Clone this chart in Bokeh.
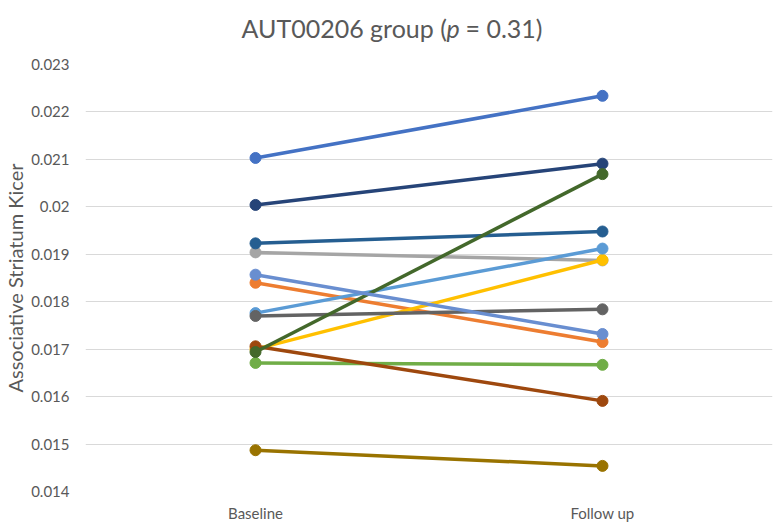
from bokeh.plotting import figure
from bokeh.layouts import column
from bokeh.models import Range1d, FixedTicker, Label
from bokeh.embed import file_html
from bokeh.resources import INLINE

categories = ["Baseline", "Follow up"]
baseline = [0.02103, 0.01840, 0.01904, 0.01700, 0.01776, 0.01671, 0.02004,
            0.01706, 0.01770, 0.01487, 0.01923, 0.01694, 0.01857]
follow_up = [0.02234, 0.01715, 0.01887, 0.01888, 0.01912, 0.01667, 0.02091,
             0.01591, 0.01784, 0.01454, 0.01948, 0.02069, 0.01732]
colors = ["#4472C4", "#ED7D31", "#A5A5A5", "#FFC000", "#5B9BD5", "#70AD47",
          "#264478", "#9E480E", "#636363", "#997300", "#255E91", "#43682B",
          "#698ED0"]
y_ticks = [0.014, 0.015, 0.016, 0.017, 0.018, 0.019, 0.020, 0.021, 0.022, 0.023]
y_tick_labels = ["0.014", "0.015", "0.016", "0.017", "0.018", "0.019", "0.02",
                 "0.021", "0.022", "0.023"]
title_parts = ["AUT00206 group (", "p", "= 0.31)"]

FONT = "Lato"
TXT = "#595959"
FW = 687          # frame width shared by both figures (frames are aligned)
FRAME_LEFT = 86   # page x of the aligned frames
TITLE_H = 56

# ---- title strip (separate small figure so the p can be italic) ----
tf = figure(frame_width=FW, frame_height=TITLE_H, output_backend="svg",
            toolbar_location=None, x_axis_type=None, y_axis_type=None,
            x_range=Range1d(FRAME_LEFT, FRAME_LEFT + FW),
            y_range=Range1d(0, TITLE_H), min_border=0)
tf.outline_line_color = None
tf.xgrid.visible = False
tf.ygrid.visible = False
tb = TITLE_H - 27
tf.add_layout(Label(x=242, y=tb, text=title_parts[0], text_align="left",
                    text_baseline="alphabetic", text_font=FONT,
                    text_font_size="25px", text_color=TXT))
tf.add_layout(Label(x=447, y=tb, text=title_parts[1], text_align="left",
                    text_baseline="alphabetic", text_font=FONT,
                    text_font_style="italic",
                    text_font_size="25px", text_color=TXT))
tf.add_layout(Label(x=466, y=tb, text=title_parts[2], text_align="left",
                    text_baseline="alphabetic", text_font=FONT,
                    text_font_size="25px", text_color=TXT))

# ---- main chart ----
p = figure(frame_width=FW, frame_height=427, output_backend="svg",
           toolbar_location=None,
           x_range=Range1d(-0.49, 1.49), y_range=Range1d(y_ticks[0], y_ticks[-1]),
           min_border_left=60, min_border_top=8, min_border_right=4,
           min_border_bottom=4)
p.outline_line_color = None
p.background_fill_color = "white"

p.xaxis.ticker = FixedTicker(ticks=[0, 1])
p.xaxis.major_label_overrides = {i: c for i, c in enumerate(categories)}
p.yaxis.ticker = FixedTicker(ticks=y_ticks)
p.yaxis.major_label_overrides = {t: l for t, l in zip(y_ticks, y_tick_labels)}
for ax in (p.xaxis, p.yaxis):
    ax.axis_line_color = None
    ax.major_tick_line_color = None
    ax.minor_tick_line_color = None
    ax.major_tick_out = 0
    ax.major_tick_in = 0
    ax.major_label_text_font = FONT
    ax.major_label_text_font_size = "15px"
    ax.major_label_text_color = TXT
p.xaxis.major_label_standoff = 12
p.yaxis.major_label_standoff = 16
p.yaxis.axis_label = "Associative Striatum Kicer"
p.yaxis.axis_label_text_font = FONT
p.yaxis.axis_label_text_font_size = "20px"
p.yaxis.axis_label_text_font_style = "normal"
p.yaxis.axis_label_text_color = TXT
p.yaxis.axis_label_standoff = 1

p.xgrid.grid_line_color = None
p.ygrid.grid_line_color = "#D9D9D9"
p.ygrid.grid_line_width = 1

for b, f, c in zip(baseline, follow_up, colors):
    p.line(x=[0, 1], y=[b, f], line_color=c, line_width=3.5)
    p.scatter(x=[0, 1], y=[b, f], size=11, marker="circle",
              fill_color=c, line_color=c)

layout = column(tf, p, spacing=0)
open("out.html", "w").write(file_html(layout, INLINE))
